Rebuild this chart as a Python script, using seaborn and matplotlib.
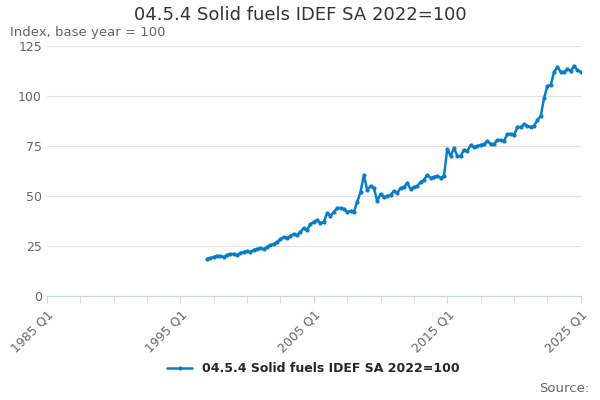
import matplotlib
matplotlib.use("Agg")
import matplotlib.pyplot as plt
import seaborn as sns
import pandas as pd

start_year = 1997
start_q = 1
values = [
    18.5, 19, 19.5, 20,
    20, 19.5, 20.5, 21,
    21, 20.5, 21.5, 22,
    22.5, 22, 23, 23.5,
    24, 23.5, 24.5, 25.5,
    26, 27, 28.5, 29.5,
    29, 30, 31, 30.5,
    32, 34, 33, 36,
    37, 38, 36.5, 37,
    41.5, 40, 42, 44,
    44, 43.5, 42, 42.5,
    42, 47, 52, 60.5,
    53, 55, 54, 47.5,
    51, 49.5, 50, 50.5,
    52.5, 51.5, 54, 54.5,
    56.5, 53.5, 54.5, 55,
    57, 58, 60.5, 59,
    59.5, 60, 59, 60,
    73.5, 70, 74, 70,
    70, 73, 72.5, 75.5,
    74.5, 75, 75.5, 76,
    77.5, 76, 76, 78,
    78, 77.5, 81, 81,
    80.5, 84.5, 84.5, 86,
    85, 84.5, 85, 88,
    90, 99, 105, 105.5,
    112, 114.5, 112, 112,
    113.5, 112.5, 115, 113,
    112,
]
label = "04.5.4 Solid fuels IDEF SA 2022=100"
xs = [(start_year - 1985) * 4 + (start_q - 1) + i for i in range(len(values))]
df = pd.DataFrame({"x": xs, "y": values})

sns.set_style("white")
fig, ax = plt.subplots(figsize=(6, 4), dpi=100)
fig.subplots_adjust(left=0.078, right=0.968, top=0.885, bottom=0.26)
sns.lineplot(data=df, x="x", y="y", ax=ax, color="#0a7dc2", marker="o",
             markersize=3, markeredgewidth=0, linewidth=1.8, label=label)
ax.set_xlim(0, 160)
ax.set_ylim(0, 125)
ax.set_yticks([0, 25, 50, 75, 100, 125])
ax.yaxis.grid(True, color="#e0e0e0", linewidth=0.8)
ax.set_xticks(range(0, 161, 40))
ax.set_xticklabels(["1985 Q1", "1995 Q1", "2005 Q1", "2015 Q1", "2025 Q1"],
                   rotation=45, ha="right", rotation_mode="anchor", color="#666666", fontsize=9)
ax.set_xticks(range(0, 161, 10), minor=True)
ax.tick_params(axis="x", which="both", length=5, color="#ccd6eb", bottom=True)
ax.tick_params(axis="y", length=0, labelsize=9, labelcolor="#666666")
for s in ["top", "right", "left"]:
    ax.spines[s].set_visible(False)
ax.spines["bottom"].set_color("#ccd6eb")
ax.set_xlabel("")
ax.set_ylabel("")
fig.suptitle("04.5.4 Solid fuels IDEF SA 2022=100", fontsize=13, color="#333333", y=0.985)
fig.text(0.017, 0.91, "Index, base year = 100", fontsize=9.5, color="#666666")
ax.legend(loc="upper center", bbox_to_anchor=(0.5, -0.22), frameon=False,
          prop={"weight": "bold", "size": 9})
fig.text(0.983, 0.02, "Source:", ha="right", fontsize=9.5, color="#666666")
fig.savefig("out.png", dpi=100)
